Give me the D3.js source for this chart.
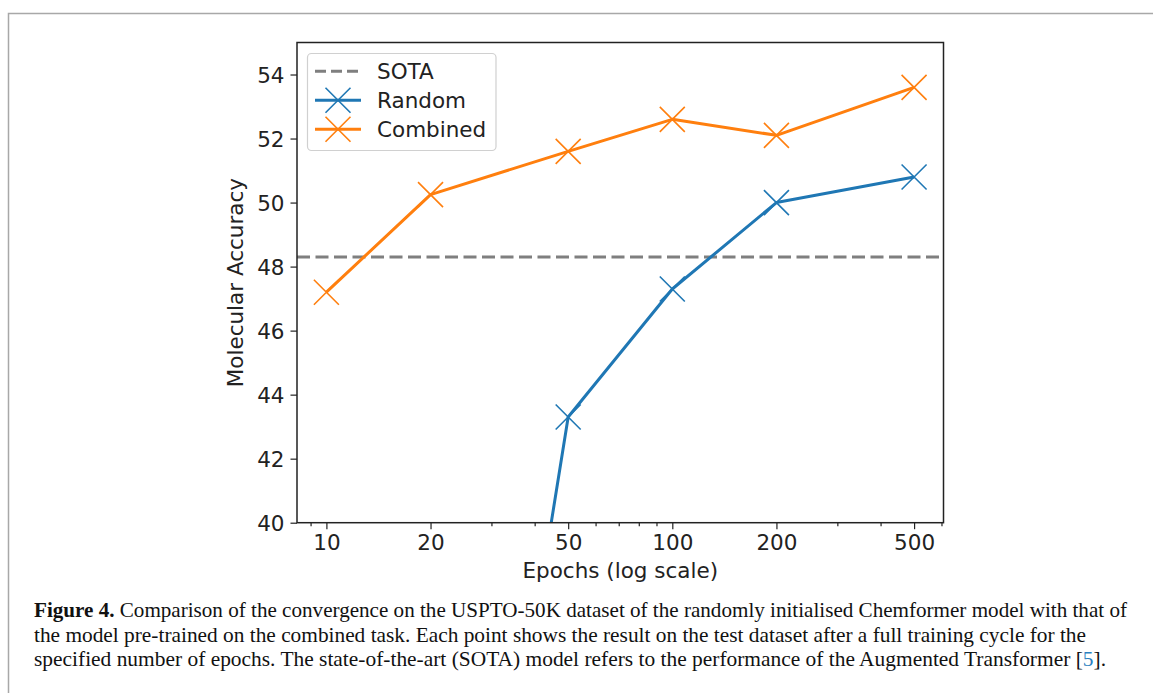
<!DOCTYPE html>
<html>
<head>
<meta charset="utf-8">
<script src="https://cdn.jsdelivr.net/npm/d3@7"></script>
<style>
  html, body { margin: 0; padding: 0; background: #fff; }
  svg { display: block; }
</style>
</head>
<body>
<svg id="chart" width="1153" height="693"></svg>
<script>
// ---- data ----
const epochs = [10, 20, 50, 100, 200, 500];
const randomEpochs = [20, 50, 100, 200, 500];
const randomAcc = [16.5, 43.3, 47.3, 50.0, 50.8];
const combinedAcc = [47.2, 50.25, 51.6, 52.6, 52.1, 53.6];
const sotaAcc = 48.3;
const xTickLabels = ["10", "20", "50", "100", "200", "500"];
const xMinorTicks = [9, 30, 40, 60, 70, 80, 90, 300, 400, 600];
const yTicks = [40, 42, 44, 46, 48, 50, 52, 54];
const seriesNames = ["SOTA", "Random", "Combined"];
const captionLines = [
  [{b: "Figure 4."}, {t: " Comparison of the convergence on the USPTO-50K dataset of the randomly initialised Chemformer model with that of"}],
  [{t: "the model pre-trained on the combined task. Each point shows the result on the test dataset after a full training cycle for the"}],
  [{t: "specified number of epochs. The state-of-the-art (SOTA) model refers to the performance of the Augmented Transformer "}, {t: "["}, {c: "5"}, {t: "]."}]
];

(function() {
// ---- layout ----
const svg = d3.select("#chart");
const pL = 297, pR = 943.5, pT = 42.5, pB = 522.7;
const blue = "#1f77b4", orange = "#ff7f0e", gray = "#7f7f7f";
const font = "DejaVu Sans, sans-serif";
const fs = 21.5;

// outer frame
svg.append("path")
  .attr("d", `M8.5,700 L8.5,13.5 L1160,13.5`)
  .attr("fill", "none").attr("stroke", "#a8a8a8").attr("stroke-width", 1.5);

const x = d3.scaleLog().domain([Math.pow(10, 0.915), Math.pow(10, 2.784)]).range([pL, pR]);
const y = d3.scaleLinear().domain([40, 55]).range([pB, pT]);

svg.append("defs").append("clipPath").attr("id", "clip")
  .append("rect").attr("x", pL).attr("y", pT).attr("width", pR - pL).attr("height", pB - pT);

// axes
const xAxis = d3.axisBottom(x).tickValues(epochs).tickFormat((d, i) => xTickLabels[i]).tickSize(6.5).tickPadding(6);
const gx = svg.append("g").attr("transform", `translate(0,${pB})`).call(xAxis);
const xMinor = d3.axisBottom(x).tickValues(xMinorTicks).tickFormat("").tickSize(3.5);
const gxm = svg.append("g").attr("transform", `translate(0,${pB})`).call(xMinor);
const yAxis = d3.axisLeft(y).tickValues(yTicks).tickSize(6.5).tickPadding(6);
const gy = svg.append("g").attr("transform", `translate(${pL},0)`).call(yAxis);
[gx, gxm, gy].forEach(g => {
  g.select(".domain").remove();
  g.selectAll(".tick line").attr("stroke", "#222").attr("stroke-width", 1.2);
  g.selectAll(".tick text").attr("fill", "#222").style("font-family", font).style("font-size", fs + "px");
});
gx.selectAll(".tick text").attr("dy", "0.71em");
gy.selectAll(".tick text").attr("dy", "0.35em");

// SOTA line
svg.append("line")
  .attr("x1", pL).attr("x2", pR).attr("y1", y(sotaAcc)).attr("y2", y(sotaAcc))
  .attr("stroke", gray).attr("stroke-width", 3).attr("stroke-dasharray", "13,5.5");

const line = d3.line().x(d => x(d[0])).y(d => y(d[1]));
const plot = svg.append("g").attr("clip-path", "url(#clip)");

function xMarker(g, cx, cy, color, r) {
  g.append("path")
    .attr("d", `M${cx - r},${cy - r}L${cx + r},${cy + r}M${cx - r},${cy + r}L${cx + r},${cy - r}`)
    .attr("stroke", color).attr("stroke-width", 1.6).attr("fill", "none");
}

const series = [
  {xs: randomEpochs, ys: randomAcc, color: blue},
  {xs: epochs, ys: combinedAcc, color: orange}
];
series.forEach(s => {
  const pts = s.xs.map((e, i) => [e, s.ys[i]]);
  plot.append("path").attr("d", line(pts)).attr("fill", "none")
    .attr("stroke", s.color).attr("stroke-width", 3).attr("stroke-linejoin", "round");
  pts.forEach(p => xMarker(plot, x(p[0]), y(p[1]), s.color, 12.5));
});

// spines
svg.append("rect").attr("x", pL).attr("y", pT).attr("width", pR - pL).attr("height", pB - pT)
  .attr("fill", "none").attr("stroke", "#222").attr("stroke-width", 1.5);

// axis labels
svg.append("text").attr("x", (pL + pR) / 2).attr("y", 578)
  .attr("text-anchor", "middle").style("font-family", font).style("font-size", fs + "px").attr("fill", "#222")
  .text("Epochs (log scale)");
svg.append("text").attr("transform", `translate(243,${(pT + pB) / 2}) rotate(-90)`)
  .attr("text-anchor", "middle").style("font-family", font).style("font-size", fs + "px").attr("fill", "#222")
  .text("Molecular Accuracy");

// legend
const lg = svg.append("g");
lg.append("rect").attr("x", 307.5).attr("y", 53.5).attr("width", 188.5).attr("height", 97)
  .attr("rx", 4).attr("fill", "#fff").attr("fill-opacity", 0.8).attr("stroke", "#d0d0d0").attr("stroke-width", 1.2);
const legendY = [71.3, 100.3, 129.3];
const legendColors = [gray, blue, orange];
seriesNames.forEach((name, i) => {
  const ly = legendY[i];
  const l = lg.append("line").attr("x1", 315).attr("x2", 361).attr("y1", ly).attr("y2", ly)
    .attr("stroke", legendColors[i]).attr("stroke-width", 3);
  if (i === 0) l.attr("stroke-dasharray", "11,5");
  else xMarker(lg, 338, ly, legendColors[i], 12.5);
  lg.append("text").attr("x", 377).attr("y", ly).attr("dy", "0.36em")
    .style("font-family", font).style("font-size", fs + "px").attr("fill", "#222").text(name);
});

// caption
const capBase = [617, 642, 666];
const capTargets = [1093, 1052, 1072];
const texts = captionLines.map((parts, i) => {
  const t = svg.append("text").attr("x", 34).attr("y", capBase[i])
    .style("font-family", "'Liberation Serif', 'DejaVu Serif', serif").style("font-size", "18px").attr("fill", "#111");
  parts.forEach(p => {
    if (p.b) t.append("tspan").style("font-weight", "bold").text(p.b);
    else if (p.c) t.append("tspan").attr("fill", "#2a7fc0").text(p.c);
    else t.append("tspan").text(p.t);
  });
  return t;
});
// choose a font size whose natural width matches the reference lines
let ratio = 0;
texts.forEach((t, i) => { ratio += capTargets[i] / t.node().getComputedTextLength(); });
ratio /= texts.length;
const capFs = Math.min(21, 18 * ratio);
texts.forEach((t, i) => {
  t.style("font-size", capFs + "px");
  t.attr("textLength", capTargets[i]).attr("lengthAdjust", "spacingAndGlyphs");
});
})();
</script>
</body>
</html>
